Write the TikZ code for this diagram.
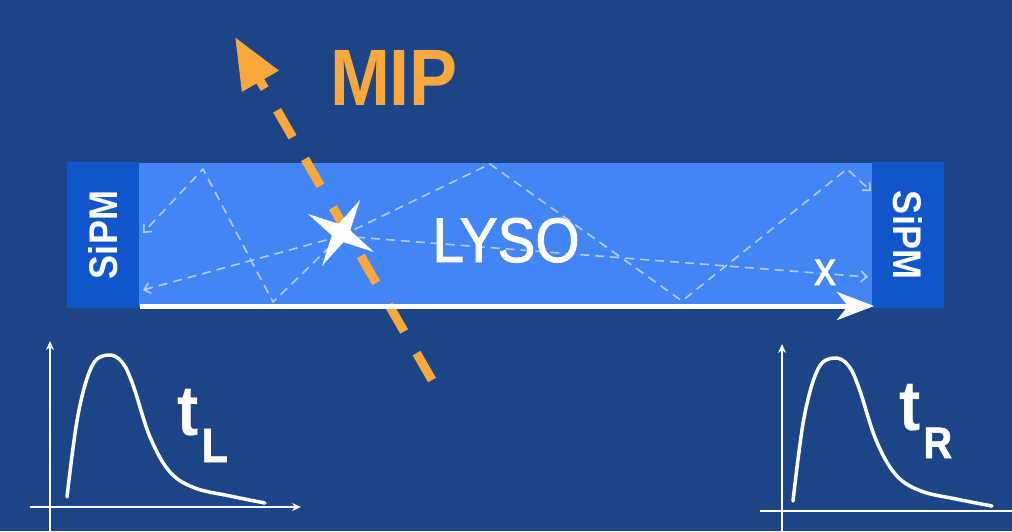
\documentclass[tikz,border=0pt]{standalone}
\usepackage{fontspec}
\setmainfont{Liberation Sans}[FakeStretch=0.9]
\newfontfamily\medfont{Liberation Sans}[FakeStretch=0.9, FakeBold=1.5]
\usetikzlibrary{arrows.meta,shapes.geometric}

\definecolor{bgblue}{HTML}{1C4587}
\definecolor{lysoblue}{HTML}{4285F4}
\definecolor{sipmblue}{HTML}{1155CC}
\definecolor{miporange}{HTML}{F9A83D}
\definecolor{photonblue}{HTML}{B4CBF5}

\tikzset{
  crystal/.style={fill=lysoblue, minimum width=736pt, minimum height=144pt, inner sep=0pt},
  sipmbox/.style={fill=sipmblue, minimum width=146pt, minimum height=72pt, inner sep=0pt,
    text=white, font=\fontsize{40}{40}\selectfont\bfseries},
  photon/.style={draw=photonblue, line width=1.6pt, line join=round,
    dash pattern=on 9pt off 6pt, -{Straight Barb[length=6pt,width=11pt]}},
  mipline/.style={draw=miporange, line width=9pt, dash pattern=on 31pt off 25pt,
    -{Triangle[length=51pt,width=40pt]}},
  posaxis/.style={draw=white, line width=5pt, -{Stealth[length=37pt,width=28pt,inset=11pt]}},
  axis/.style={draw=white, line width=1.5pt},
  axisarrow/.style={axis, -{Stealth[length=9pt,width=8pt,inset=3pt]}},
  pulse/.style={draw=white, line width=3.5pt, line cap=round, line join=round},
  tlabel/.style={text=white, inner sep=0pt, font=\fontsize{71}{71}\selectfont\bfseries}
}

\begin{document}
\begin{tikzpicture}[x=1pt, y=-1pt]
  \useasboundingbox (0,0) rectangle (1012,531);
  \fill[bgblue] (0,0) rectangle (1012,531);

  % crystal and the two photodetectors
  \node[crystal] (lyso) at (506,235) {};
  \node[sipmbox, rotate=90] (sipmL) at (103,235) {SiPM};
  \node[sipmbox, rotate=-90] (sipmR) at (908,235) {SiPM};

  % scintillation photons bouncing towards the ends
  \coordinate (src) at (341,236);
  \coordinate (b1) at (273,302);
  \coordinate (t1) at (203,169);
  \coordinate (endL1) at (143,233);
  \coordinate (endL2) at (143,290);
  \coordinate (t2) at (490,164);
  \coordinate (b2) at (682,301);
  \coordinate (t3) at (847,169);
  \coordinate (endR1) at (871,191);
  \coordinate (endR2) at (868,277);

  \draw[photon] (src) -- (b1) -- (t1) -- (endL1);
  \draw[photon] (src) -- (endL2);
  \draw[photon] (src) -- (t2) -- (b2) -- (t3) -- (endR1);
  \draw[photon] (src) -- (endR2);

  % MIP track
  \coordinate (mipstart) at (432,380);
  \coordinate (miptip) at (235,37);
  \draw[mipline] (mipstart) -- (miptip);
  \node[anchor=base, inner sep=0pt, text=miporange, font=\fontsize{80}{80}\selectfont\bfseries]
    (miplabel) at (394,105) {MIP};

  % position axis along the crystal
  \coordinate (xstart) at (140,306);
  \coordinate (xend) at (874,306);
  \draw[posaxis] (xstart) -- (xend);
  \node[anchor=base, inner sep=0pt, text=white, font=\fontsize{48}{48}\medfont]
    (xlabel) at (825,285) {x};

  % interaction point
  \node[star, star points=4, star point ratio=4, minimum size=76pt, inner sep=0pt,
    fill=white, rotate=-30] (flash) at (341,233) {};

  \node[anchor=base, inner sep=0pt, text=white, font=\fontsize{63}{63}\medfont]
    (lysolabel) at (506,262) {LYSO};

  % left pulse
  \coordinate (yL0) at (50,531);
  \coordinate (yL1) at (50,341);
  \coordinate (xL0) at (30,507);
  \coordinate (xL1) at (301,507);
  \draw[axisarrow] (yL0) -- (yL1);
  \draw[axisarrow] (xL0) -- (xL1);
  \draw[pulse] plot[smooth, tension=0.6] coordinates {(67,497) (78,415) (92,366) (108,355)
    (122,362) (133,385) (150,437) (170,472) (195,488) (230,496) (265,503)};
  \node[tlabel, anchor=base west] (tL) at (177,435)
    {t\hspace{3pt}\raisebox{-27pt}{\fontsize{48}{48}\medfont L}};

  % right pulse
  \coordinate (yR0) at (782,531);
  \coordinate (yR1) at (782,344);
  \coordinate (xR0) at (760,511);
  \coordinate (xR1) at (1012,511);
  \draw[axisarrow] (yR0) -- (yR1);
  \draw[axis] (xR0) -- (xR1);
  \draw[pulse] plot[smooth, tension=0.6] coordinates {(793,501) (804,418) (818,369) (834,358)
    (848,365) (859,388) (876,440) (896,475) (921,491) (956,499) (992,506)};
  \node[tlabel, anchor=base west] (tR) at (899,430)
    {t\hspace{3pt}\raisebox{-28pt}{\fontsize{44}{44}\medfont R}};
\end{tikzpicture}
\end{document}
